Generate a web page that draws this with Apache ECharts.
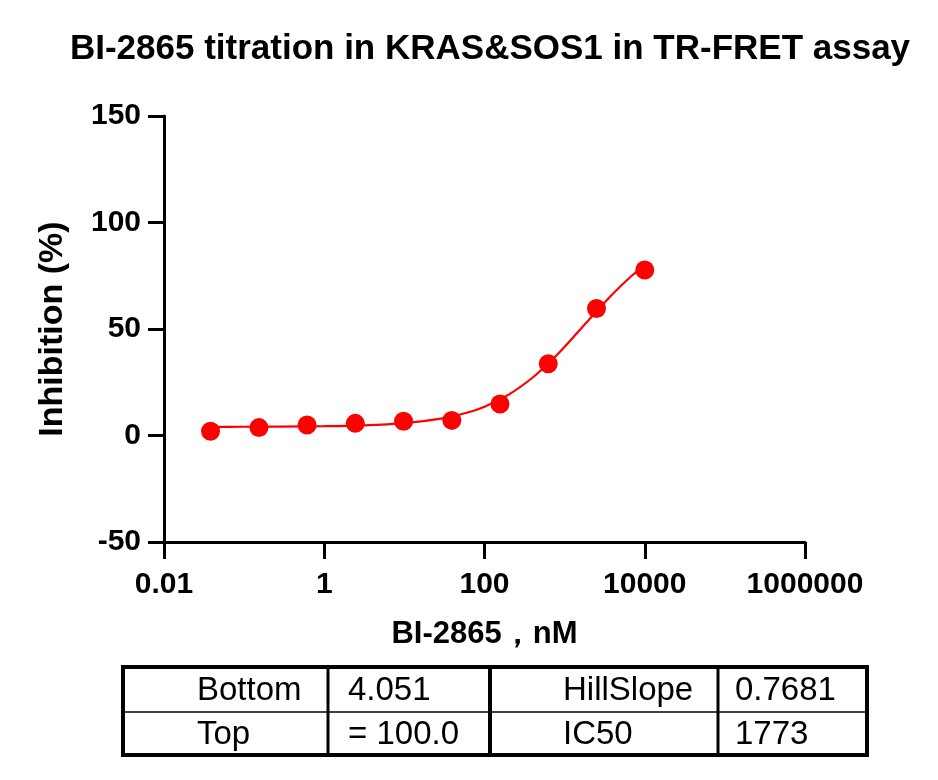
<!DOCTYPE html>
<html>
<head>
<meta charset="utf-8">
<script src="https://cdn.jsdelivr.net/npm/echarts@6.0.0/dist/echarts.min.js"></script>
<style>
html,body{margin:0;padding:0;background:#fff;}
#chart{width:938px;height:780px;}
</style>
</head>
<body>
<div id="chart"></div>
<script>
// ---- data ----
const titleText = 'BI-2865 titration in KRAS&SOS1 in TR-FRET assay';
const xAxisName = 'BI-2865，nM';
const yAxisName = 'Inhibition (%)';
const concentrations = [0.0381, 0.153, 0.610, 2.44, 9.77, 39.1, 156, 625, 2500, 10000];
const inhibition = [2.0, 3.7, 4.9, 5.7, 6.7, 7.1, 14.8, 33.7, 59.6, 77.7];
const curveX = [0.0381, 0.1, 0.3, 1, 3, 10, 30, 60, 100, 200, 400, 700, 1000, 2000, 4000, 7000, 10000];
const curveY = [4.08, 4.10, 4.17, 4.36, 4.76, 5.82, 8.06, 10.68, 13.55, 19.17, 27.23, 35.6, 41.65, 54.25, 66.56, 75.23, 79.9];
const xTicks = [0.01, 1, 100, 10000, 1000000];
const yTicks = [-50, 0, 50, 100, 150];
const tableRow1 = ['Bottom', '4.051', 'HillSlope', '0.7681'];
const tableRow2 = ['Top', '= 100.0', 'IC50', '1773'];

// ---- chart ----
const FONT = '"Liberation Sans", Arial, Helvetica, sans-serif';
const chart = echarts.init(document.getElementById('chart'), null, {renderer: 'canvas'});

const pts = concentrations.map((c, i) => [c, inhibition[i]]);
const curve = curveX.map((c, i) => [c, curveY[i]]);

// table layout
const tLeft = 123, tRight = 867, tTop = 667, tMid = 712, tBottom = 755;
const colLines = [328, 490, 718];
const colTextX = [197, 348, 563, 735];
const rowY = [(tTop + tMid) / 2 + 1, (tMid + tBottom) / 2 + 1];
const tableEls = [];
tableEls.push({type: 'rect', shape: {x: tLeft, y: tTop, width: tRight - tLeft, height: tBottom - tTop},
  style: {fill: 'none', stroke: '#000', lineWidth: 4}});
tableEls.push({type: 'line', shape: {x1: tLeft, y1: tMid, x2: tRight, y2: tMid},
  style: {stroke: '#000', lineWidth: 1.5}});
colLines.forEach((x, i) => {
  tableEls.push({type: 'line', shape: {x1: x, y1: tTop, x2: x, y2: tBottom},
    style: {stroke: '#000', lineWidth: i === 1 ? 4 : 3}});
});
[tableRow1, tableRow2].forEach((row, r) => {
  row.forEach((txt, c) => {
    tableEls.push({type: 'text', x: colTextX[c], y: rowY[r],
      style: {text: txt, fill: '#000', font: 'normal 33px ' + FONT, textAlign: 'left', textVerticalAlign: 'middle'}});
  });
});

const option = {
  animation: false,
  backgroundColor: '#fff',
  title: {
    text: titleText,
    left: 485,
    textAlign: 'center',
    top: 27,
    textStyle: {fontFamily: FONT, fontWeight: 'bold', fontSize: 35, color: '#000'}
  },
  grid: {left: 164, right: 133, top: 116, bottom: 238},
  xAxis: {
    type: 'log',
    logBase: 10,
    min: 0.01,
    max: 1000000,
    name: xAxisName,
    nameLocation: 'middle',
    nameGap: 77,
    nameTextStyle: {fontFamily: FONT, fontWeight: 'bold', fontSize: 31, color: '#000'},
    axisLine: {show: true, onZero: false, lineStyle: {color: '#000', width: 3}},
    axisTick: {show: true, inside: false, length: 17, customValues: xTicks, lineStyle: {color: '#000', width: 3}},
    axisLabel: {customValues: xTicks, margin: 28, color: '#000', fontFamily: FONT, fontWeight: 'bold', fontSize: 30,
      formatter: v => String(v)},
    splitLine: {show: false},
    minorTick: {show: false}
  },
  yAxis: {
    type: 'value',
    min: -50,
    max: 150,
    interval: 50,
    name: yAxisName,
    nameLocation: 'middle',
    nameRotate: 90,
    nameGap: 94,
    nameTextStyle: {fontFamily: FONT, fontWeight: 'bold', fontSize: 34, color: '#000'},
    axisLine: {show: true, onZero: false, lineStyle: {color: '#000', width: 3}},
    axisTick: {show: true, inside: false, length: 16, customValues: yTicks, lineStyle: {color: '#000', width: 3}},
    axisLabel: {customValues: yTicks, margin: 23, color: '#000', fontFamily: FONT, fontWeight: 'bold', fontSize: 30},
    splitLine: {show: false}
  },
  series: [
    {
      type: 'line',
      data: curve,
      smooth: 0.3,
      showSymbol: false,
      symbol: 'none',
      lineStyle: {color: '#ff0000', width: 2.2},
      z: 2
    },
    {
      type: 'scatter',
      data: pts,
      symbol: 'circle',
      symbolSize: 19,
      itemStyle: {color: '#ff0000', opacity: 1},
      z: 3
    }
  ],
  graphic: tableEls
};
chart.setOption(option);
</script>
</body>
</html>
